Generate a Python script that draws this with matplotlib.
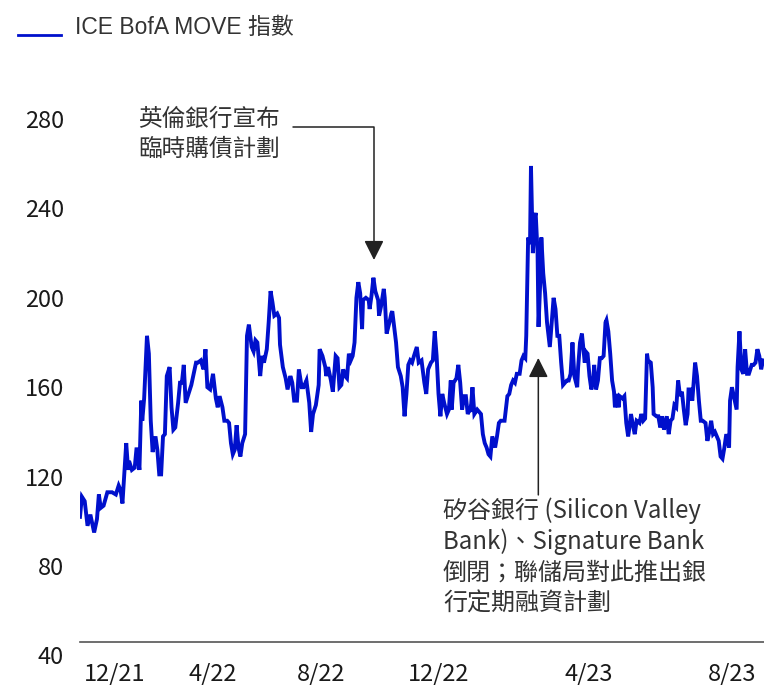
import matplotlib
matplotlib.use("Agg")
import matplotlib.pyplot as plt
from matplotlib.lines import Line2D

# ICE BofA MOVE index (x = days since late Nov 2021)
days = [0, 2, 5, 8, 11, 12, 15, 18, 20, 22, 25, 29, 34, 38, 41, 43, 45, 49, 51, 52,
        55, 58, 60, 63, 65, 66, 68, 71, 73, 75, 77, 80, 82, 84, 86, 88, 90, 92, 95, 97,
        99, 101, 104, 106, 108, 110, 112, 115, 118, 120, 123, 125, 128, 131, 133, 135, 138, 141, 144, 146,
        148, 151, 153, 156, 158, 160, 162, 164, 166, 168, 170, 172, 175, 177, 179, 182, 184, 186, 188, 191,
        193, 195, 198, 200, 202, 204, 206, 209, 211, 212, 215, 218, 220, 223, 225, 227, 230, 232, 235, 237,
        240, 243, 245, 247, 250, 253, 254, 257, 260, 261, 263, 266, 268, 271, 273, 275, 277, 279, 281, 283,
        285, 287, 289, 291, 293, 295, 297, 299, 300, 303, 306, 307, 309, 311, 313, 316, 317, 319, 322, 323,
        325, 328, 330, 331, 333, 335, 337, 340, 342, 344, 346, 348, 350, 352, 354, 357, 359, 362, 365, 367,
        369, 372, 374, 376, 378, 380, 382, 384, 386, 389, 391, 393, 394, 396, 399, 401, 403, 405, 407, 409,
        411, 413, 414, 416, 418, 421, 423, 425, 427, 429, 431, 433, 435, 437, 440, 442, 444, 446, 448, 450,
        453, 455, 457, 459, 461, 463, 466, 468, 470, 472, 473, 475, 477, 478, 480, 482, 483, 485, 486, 488,
        489, 491, 493, 495, 498, 500, 502, 504, 506, 508, 510, 512, 514, 516, 518, 520, 522, 524, 527, 528,
        530, 532, 535, 536, 538, 540, 542, 544, 545, 547, 549, 551, 553, 555, 557, 558, 560, 562, 564, 566,
        567, 569, 571, 572, 575, 577, 579, 581, 582, 584, 587, 588, 590, 593, 595, 597, 599, 601, 602, 605,
        607, 608, 611, 613, 615, 617, 619, 622, 624, 626, 628, 630, 632, 634, 636, 638, 640, 642, 644, 645,
        647, 649, 652, 654, 656, 658, 660, 663, 665, 667, 669, 671, 673, 675, 677, 679, 681, 683, 685, 688,
        689, 691, 694, 696, 697, 699, 701, 703, 705, 707, 709, 712, 714, 716, 718, 720, 722, 724]
move = [102, 111, 109, 98, 103, 101, 95, 101, 112, 106, 107, 113, 113, 112, 116, 114, 108, 135, 123, 127,
        123, 124, 133, 123, 154, 145, 155, 183, 175, 145, 131, 138, 132, 121, 121, 138, 139, 165, 169, 151,
        141, 142, 153, 162, 162, 170, 153, 157, 161, 165, 171, 171, 172, 168, 177, 160, 159, 166, 155, 151,
        156, 151, 145, 145, 144, 135, 130, 132, 143, 133, 129, 135, 139, 183, 188, 178, 176, 181, 180, 165,
        174, 171, 177, 189, 203, 198, 192, 193, 191, 179, 169, 164, 159, 165, 162, 154, 154, 168, 160, 160,
        163, 153, 140, 148, 152, 161, 177, 174, 169, 165, 169, 163, 158, 174, 173, 160, 161, 168, 165, 164,
        175, 172, 174, 180, 200, 207, 202, 186, 199, 200, 199, 195, 201, 209, 203, 199, 192, 196, 204, 200,
        184, 189, 193, 194, 187, 180, 169, 165, 160, 147, 157, 170, 172, 171, 174, 178, 171, 172, 162, 157,
        168, 171, 172, 185, 174, 157, 147, 157, 153, 148, 150, 163, 150, 162, 164, 170, 162, 150, 156, 156,
        148, 150, 149, 160, 148, 150, 149, 148, 139, 135, 133, 130, 129, 138, 133, 138, 144, 145, 145, 145,
        156, 157, 161, 163, 162, 166, 166, 172, 174, 173, 183, 227, 224, 259, 220, 236, 238, 220, 187, 209,
        227, 211, 202, 189, 178, 189, 200, 195, 183, 183, 171, 161, 162, 163, 163, 166, 180, 165, 160, 169,
        180, 184, 171, 176, 175, 165, 159, 163, 170, 159, 163, 173, 173, 174, 189, 190, 185, 175, 163, 158,
        151, 157, 151, 156, 155, 156, 144, 138, 141, 148, 141, 139, 145, 144, 148, 145, 146, 175, 172, 171,
        160, 148, 147, 147, 142, 147, 141, 147, 139, 145, 146, 152, 151, 163, 156, 158, 150, 143, 148, 159,
        159, 154, 171, 165, 154, 145, 145, 144, 136, 140, 145, 139, 140, 138, 136, 129, 128, 133, 139, 133,
        154, 160, 154, 150, 169, 185, 168, 166, 177, 166, 166, 170, 170, 171, 177, 174, 168, 172]

tick_days = [37, 141, 256, 380, 539, 691]
tick_labels = ["12/21", "4/22", "8/22", "12/22", "4/23", "8/23"]
y_ticks = [40, 80, 120, 160, 200, 240, 280]

legend_label = "ICE BofA MOVE 指數"
boe_note = "英倫銀行宣布\n臨時購債計劃"
svb_note = "矽谷銀行 (Silicon Valley\nBank)、Signature Bank\n倒閉；聯儲局對此推出銀\n行定期融資計劃"

line_color = "#0010CC"
text_color = "#333333"
cjk = ["Noto Sans CJK TC", "DejaVu Sans"]

fig = plt.figure(figsize=(7.64, 6.85), dpi=100)
ax = fig.add_axes([0.1047, 0.0432, 0.8953, 0.8483])

ax.plot(days, move, color=line_color, linewidth=2.8, solid_joinstyle="miter")

ax.set_xlim(0, 725)
ax.set_ylim(40, 300)

for side in ["top", "right", "left"]:
    ax.spines[side].set_visible(False)
ax.spines["bottom"].set_position(("data", 46))
ax.spines["bottom"].set_color("#555555")
ax.spines["bottom"].set_linewidth(1.2)

ax.set_xticks(tick_days)
ax.set_xticklabels(tick_labels)
ax.set_yticks(y_ticks)
ax.set_yticklabels([str(v) for v in y_ticks])
ax.tick_params(axis="x", length=0, pad=15, labelsize=17, labelcolor="#1a1a1a")
ax.tick_params(axis="y", length=0, pad=11.5, labelsize=17, labelcolor="#1a1a1a")
for lab in ax.get_xticklabels() + ax.get_yticklabels():
    lab.set_family(cjk)

# legend, drawn by hand so the swatch sits on the text baseline
fig.add_artist(Line2D([0.0236, 0.0792], [0.9485, 0.9485], transform=fig.transFigure,
                      color=line_color, linewidth=2.0))
fig.text(0.0982, 0.9504, legend_label, fontsize=16.5, color=text_color, va="baseline",
         family=["Liberation Sans", "Noto Sans CJK TC", "DejaVu Sans"])

arrow_style = "-|>,head_length=0.8,head_width=0.4"

# BoE annotation
ax.text(212, 273.2, boe_note, ha="right", va="center", fontsize=17, color=text_color,
        family=cjk, linespacing=1.38)
ax.annotate("", xy=(311.6, 216.9), xytext=(226, 276.6),
            arrowprops=dict(arrowstyle=arrow_style, color="#222222",
                            lw=1.1, shrinkA=0, shrinkB=0, mutation_scale=15,
                            connectionstyle="angle,angleA=0,angleB=90,rad=0"))

# SVB annotation
ax.annotate("", xy=(485.8, 173.1), xytext=(485.8, 111.8),
            arrowprops=dict(arrowstyle=arrow_style, color="#222222",
                            lw=1.1, shrinkA=0, shrinkB=0, mutation_scale=15))
ax.text(384.8, 84, svb_note, ha="left", va="center", fontsize=17.3, color=text_color,
        family=cjk, linespacing=1.22)

fig.savefig("out.png", dpi=100)
